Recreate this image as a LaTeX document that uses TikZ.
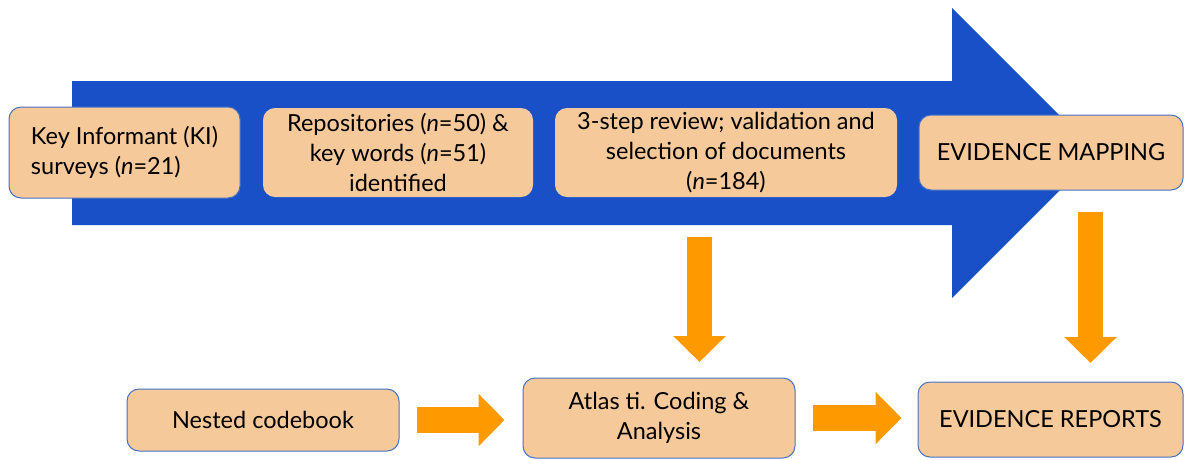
\documentclass[tikz,border=0pt]{standalone}
\usepackage{fontspec}
\setmainfont{Lato}
\usetikzlibrary{arrows.meta}
\definecolor{bblue}{RGB}{25,80,200}
\definecolor{peach}{RGB}{246,201,155}
\definecolor{bord}{RGB}{68,114,196}
\definecolor{orng}{RGB}{255,153,0}
\tikzset{
  box/.style={draw=bord, line width=1pt, fill=peach, rounded corners=12pt, inner sep=0pt,
    font=\fontsize{23.5}{30}\selectfont, text=black, align=center},
  oarrow/.style={draw=orng, line width=25.5pt, -{Triangle[width=51pt,length=26pt]}, color=orng},
}
\begin{document}
\begin{tikzpicture}[x=1pt,y=-1pt]
\useasboundingbox (0,0) rectangle (1185,459);
% big blue arrow
\fill[bblue] (72,81) -- (952,81) -- (952,8) -- (1097,153) -- (952,298) -- (952,225) -- (72,225) -- cycle;
% top boxes
\node[box, minimum width=231pt, minimum height=91pt, align=left] (ki) at (124.5,152.5)
  {Key Informant (KI)\\surveys (\textit{n}=21)};
\node[box, draw=none, minimum width=270pt, minimum height=89pt] (rep) at (398,152.5)
  {Repositories (\textit{n}=50) \&\\key words (\textit{n}=51)\\identified};
\node[box, draw=none, minimum width=342pt, minimum height=89pt] (rev) at (726,152.5)
  {3-step review; validation and\\selection of documents\\(\textit{n}=184)};
\node[box, minimum width=264pt, minimum height=75pt] (map) at (1051,152.5)
  {EVIDENCE MAPPING};
% bottom boxes
\node[box, minimum width=272pt, minimum height=62pt] (code) at (263,420) {Nested codebook};
\node[box, minimum width=272pt, minimum height=80pt] (atlas) at (659,418)
  {Atlas ti. Coding \&\\Analysis};
\node[box, minimum width=265pt, minimum height=75pt] (repo) at (1050.5,419.5)
  {EVIDENCE REPORTS};
% orange arrows
\coordinate (d1a) at (699.5,237);
\coordinate (d1b) at (699.5,362);
\coordinate (d2a) at (1090.5,212);
\coordinate (d2b) at (1090.5,363);
\draw[oarrow] (d1a) -- (d1b);
\draw[oarrow] (d2a) -- (d2b);
\draw[oarrow, shorten <=17pt, shorten >=18pt] (code.east) -- (code.east -| atlas.west);
\draw[oarrow, shorten <=17pt, shorten >=16pt] (atlas.east) -- (atlas.east -| repo.west);
\end{tikzpicture}
\end{document}
